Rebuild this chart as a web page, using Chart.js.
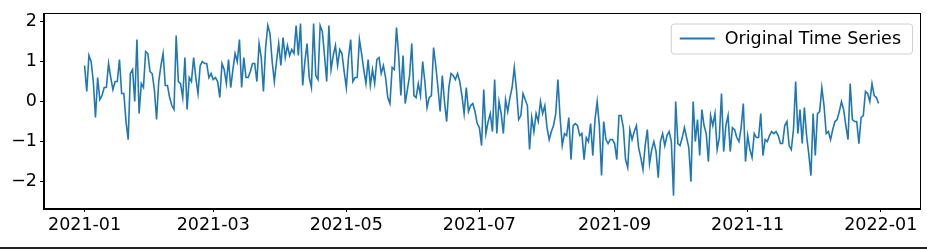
<!DOCTYPE html>
<html><head><meta charset="utf-8">
<script src="https://cdn.jsdelivr.net/npm/chart.js@4"></script>
<style>html,body{margin:0;padding:0;background:#fff;}canvas{display:block;}</style>
</head><body>
<canvas id="c" width="927" height="249"></canvas>
<script>
const seriesLabel = 'Original Time Series';
const values = [
0.9,0.25,1.15,1.0,0.5,-0.4,0.6,0.05,0.15,0.35,0.35,0.95,0.6,0.3,0.5,0.5,1.05,0.2,0.2,-0.5,
-0.95,0.7,0.8,0.0,1.55,-0.3,0.45,0.35,1.25,1.2,0.75,0.7,0.3,-0.45,0.5,0.9,1.2,0.4,0.4,0.1,
-0.1,-0.2,1.65,0.5,0.45,0.1,1.1,-0.2,0.6,0.5,1.1,0.6,0.2,0.9,1.0,0.95,0.95,0.6,0.7,0.55,
0.6,0.5,0.1,0.95,0.8,0.45,1.05,0.35,0.8,1.2,1.0,1.55,0.35,1.1,0.6,0.6,0.75,0.95,0.95,0.5,
1.45,1.1,0.25,1.35,1.9,1.7,1.0,0.5,1.0,1.45,0.9,1.6,1.1,1.4,1.15,1.3,1.2,1.9,1.15,1.95,
0.4,1.0,1.45,0.6,0.35,1.95,0.65,0.55,1.9,1.75,1.15,0.5,1.9,0.8,1.15,1.4,0.9,1.3,1.2,0.75,
0.35,1.1,1.55,0.5,0.6,0.6,1.55,1.2,0.8,0.45,1.05,0.4,0.8,0.45,1.05,1.1,0.7,0.9,0.6,0.1,
-0.05,0.85,0.8,1.85,1.15,0.15,1.15,-0.05,0.3,0.65,1.45,0.15,0.1,0.45,0.15,1.0,0.5,-0.15,0.1,0.15,
1.35,0.9,0.35,-0.25,0.65,0.0,-0.5,0.35,0.7,0.65,0.55,0.7,0.5,0.15,-0.3,0.35,-0.25,-0.1,-0.05,-0.25,
-0.55,-0.65,-1.1,0.3,-0.8,-0.5,-0.3,-0.75,0.55,-0.8,0.0,-0.3,-0.8,0.05,-0.25,0.1,0.35,0.85,0.3,-0.45,
-0.35,0.2,0.05,-0.1,-1.2,-0.4,-0.75,-0.3,-0.5,0.0,-0.3,-0.1,-0.65,-0.95,-0.75,-0.6,-0.3,0.55,-0.4,-1.1,
-0.8,-0.85,-0.4,-1.45,-0.6,-0.55,-0.6,-0.85,-0.8,-1.45,-0.9,-1.0,-0.55,-1.35,-0.45,0.0,-0.6,-1.85,-0.5,-0.95,
-1.05,-0.95,-0.95,-1.05,-1.45,-0.35,-0.35,-0.65,-1.45,-1.65,-0.7,-0.95,-0.75,-0.6,-1.15,-1.4,-1.7,-1.1,-0.7,-1.55,
-1.2,-1.0,-1.25,-1.9,-1.0,-0.8,-1.1,-0.85,-0.75,-1.0,-2.35,0.0,-1.05,-1.1,-0.9,-0.65,-0.9,-1.15,-2.0,0.0,
-1.0,-0.45,-1.35,-0.2,-0.6,-0.8,-1.5,-0.35,-0.6,-0.3,-1.2,-0.9,0.2,-1.25,-0.6,-0.35,-1.25,-0.65,-0.7,-0.9,
-1.0,-0.65,-0.05,-1.5,-0.85,-1.2,-1.4,-0.8,-0.9,-0.9,-0.3,-1.35,-0.95,-1.0,-0.85,-0.75,-0.8,-0.75,-0.85,-1.05,
-1.05,-0.6,-0.5,-1.1,-1.2,-0.7,0.5,-0.8,-0.2,-1.05,-0.15,-0.85,-1.3,-1.85,-0.3,-1.35,-0.3,-0.25,0.35,-0.1,
-0.8,-0.75,-0.95,-0.7,-0.5,-0.45,-0.25,0.0,-0.2,-0.6,-0.95,0.45,-0.45,-0.5,-0.5,-1.05,-0.4,-0.35,0.25,0.2,
0.0,0.45,0.15,0.1,-0.05
];
const xTickDays = [0, 59, 120, 181, 243, 304, 365];
const xTickLabels = ['2021-01','2021-03','2021-05','2021-07','2021-09','2021-11','2022-01'];
const yTickValues = [-2, -1, 0, 1, 2];
const yTickLabels = ['\u22122','\u22121','0','1','2'];

const FONT = 'DejaVu Sans';
const FS = 17.5;
const points = values.map((v, i) => ({x: i, y: v}));

const framePlugin = {
  id: 'frame',
  afterDatasetsDraw(chart) {
    const {ctx, chartArea: a} = chart;
    ctx.save();
    ctx.strokeStyle = '#000';
    ctx.lineWidth = 1;
    ctx.strokeRect(Math.round(a.left) - 0.5, Math.round(a.top) - 0.5, Math.round(a.right - a.left) + 1, Math.round(a.bottom - a.top) + 1);
    ctx.restore();
  }
};
const legendPlugin = {
  id: 'mplLegend',
  afterDraw(chart) {
    const {ctx, chartArea: a} = chart;
    const ds = chart.data.datasets[0];
    ctx.save();
    ctx.font = FS + 'px "' + FONT + '"';
    const tw = ctx.measureText(ds.label).width;
    const w = tw + 65, h = 30;
    const x = a.right - 8 - w, y = a.top + 10;
    ctx.beginPath();
    ctx.roundRect(x + 0.5, y + 0.5, w, h, 3);
    ctx.fillStyle = 'rgba(255,255,255,0.8)';
    ctx.fill();
    ctx.strokeStyle = '#d0d0d0';
    ctx.lineWidth = 1;
    ctx.stroke();
    ctx.beginPath();
    ctx.moveTo(x + 9, y + h / 2);
    ctx.lineTo(x + 44, y + h / 2);
    ctx.strokeStyle = ds.borderColor;
    ctx.lineWidth = 1.8;
    ctx.stroke();
    ctx.fillStyle = '#000';
    ctx.textBaseline = 'middle';
    ctx.fillText(ds.label, x + 54, y + h / 2 + 1);
    // thin dark rule along the bottom edge of the picture, as in the reference
    ctx.fillStyle = '#222';
    ctx.fillRect(0, chart.height - 2, chart.width, 2);
    ctx.restore();
  }
};

new Chart(document.getElementById('c'), {
  type: 'line',
  data: {
    datasets: [{
      label: seriesLabel,
      data: points,
      borderColor: '#1f77b4',
      borderWidth: 1.6,
      pointRadius: 0,
      tension: 0,
      fill: false
    }]
  },
  options: {
    responsive: false,
    devicePixelRatio: 1,
    animation: false,
    layout: {padding: {left: 0, top: 12, right: 7, bottom: 0}},
    plugins: {legend: {display: false}, tooltip: {enabled: false}},
    scales: {
      x: {
        type: 'linear',
        min: -18.6,
        max: 383,
        afterBuildTicks: s => { s.ticks = xTickDays.map(v => ({value: v})); },
        afterFit: s => { s.height = 41; },
        ticks: {
          autoSkip: false, maxRotation: 0,
          color: '#000', font: {family: FONT, size: FS}, padding: 3,
          callback: v => xTickLabels[xTickDays.indexOf(v)]
        },
        grid: {drawOnChartArea: false, drawTicks: true, tickLength: 4, tickColor: '#000'},
        border: {display: true, color: '#000'}
      },
      y: {
        type: 'linear',
        min: -2.66,
        max: 2.2,
        afterBuildTicks: s => { s.ticks = yTickValues.map(v => ({value: v})); },
        afterFit: s => { s.width = 44; },
        ticks: {
          color: '#000', font: {family: FONT, size: FS}, padding: 3,
          callback: v => yTickLabels[yTickValues.indexOf(v)]
        },
        grid: {drawOnChartArea: false, drawTicks: true, tickLength: 4, tickColor: '#000'},
        border: {display: true, color: '#000'}
      }
    }
  },
  plugins: [framePlugin, legendPlugin]
});
</script>
</body></html>
